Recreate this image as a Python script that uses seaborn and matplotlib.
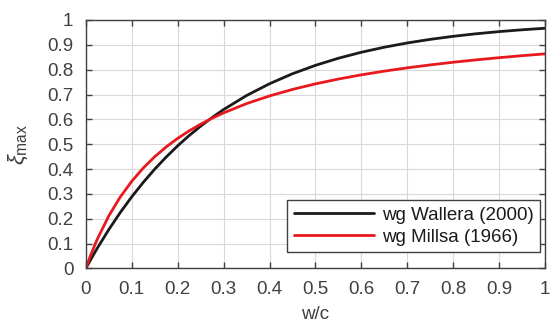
import numpy as np
import pandas as pd
import matplotlib
matplotlib.use("Agg")
import matplotlib.pyplot as plt
import seaborn as sns

wc = [0, 0.005, 0.01, 0.02, 0.025, 0.05, 0.075, 0.1, 0.125, 0.15, 0.175, 0.2,
      0.225, 0.25, 0.275, 0.3, 0.35, 0.4, 0.45, 0.5, 0.55, 0.6, 0.65, 0.7,
      0.75, 0.8, 0.85, 0.9, 0.95, 1.0]
waller = [0, 0.0169, 0.0334, 0.0657, 0.0815, 0.1563, 0.2251, 0.2882, 0.3462,
          0.3995, 0.4484, 0.4934, 0.5347, 0.5726, 0.6074, 0.6394, 0.6958,
          0.7433, 0.7835, 0.8173, 0.8459, 0.8700, 0.8903, 0.9074, 0.9219,
          0.9341, 0.9444, 0.9531, 0.9604, 0.9666]
mills = [0, 0.0259, 0.0505, 0.0964, 0.1177, 0.2113, 0.2875, 0.3507, 0.4040,
         0.4496, 0.4890, 0.5234, 0.5536, 0.5805, 0.6045, 0.6261, 0.6633,
         0.6943, 0.7204, 0.7428, 0.7622, 0.7791, 0.7940, 0.8073, 0.8191,
         0.8298, 0.8394, 0.8482, 0.8562, 0.8635]
series_names = ["wg Wallera (2000)", "wg Millsa (1966)"]
ticks = [0, 0.1, 0.2, 0.3, 0.4, 0.5, 0.6, 0.7, 0.8, 0.9, 1]
tick_labels = ["0", "0.1", "0.2", "0.3", "0.4", "0.5", "0.6", "0.7", "0.8", "0.9", "1"]

df = pd.DataFrame({
    "w/c": wc * 2,
    "xi": waller + mills,
    "series": [series_names[0]] * len(wc) + [series_names[1]] * len(wc),
})

sns.set_theme(style="white")
plt.rcParams["font.family"] = ["Liberation Sans", "DejaVu Sans"]
plt.rcParams["mathtext.fontset"] = "custom"
plt.rcParams["mathtext.rm"] = "Liberation Sans"
plt.rcParams["mathtext.it"] = "Liberation Sans:italic"

fig = plt.figure(figsize=(5.5, 3.27), dpi=100)
ax = fig.add_axes([0.156, 0.179, 0.835, 0.760])

sns.lineplot(data=df, x="w/c", y="xi", hue="series",
             palette=["#1a1a1a", "#e8191e"], linewidth=2, ax=ax)

ax.set_xlim(0, 1)
ax.set_ylim(0, 1)
ax.set_xticks(ticks)
ax.set_xticklabels(tick_labels)
ax.set_yticks(ticks)
ax.set_yticklabels(tick_labels)
ax.grid(True, color="#d9d9d9", linewidth=0.8)
ax.set_axisbelow(True)
for s in ax.spines.values():
    s.set_visible(True)
    s.set_color("#404040")
    s.set_linewidth(1.0)
ax.tick_params(direction="in", length=4, width=1, color="#404040",
               labelcolor="#404040", labelsize=13.5, top=True, right=True,
               bottom=True, left=True, pad=9)
ax.set_xlabel("w/c", fontsize=13.5, color="#404040", labelpad=6)
ax.set_ylabel(r"$\xi_{\mathrm{max}}$", fontsize=16, color="#404040", labelpad=12)

leg = ax.legend(loc="lower right", fontsize=13.5, frameon=True, fancybox=False,
                edgecolor="#404040", framealpha=1, borderpad=0.35,
                handlelength=4.3, handletextpad=0.4, labelspacing=0.25,
                borderaxespad=0, bbox_to_anchor=(0.989, 0.066))
leg.get_frame().set_linewidth(1.0)
for t in leg.get_texts():
    t.set_color("#1a1a1a")

fig.savefig("out.png", dpi=100)
